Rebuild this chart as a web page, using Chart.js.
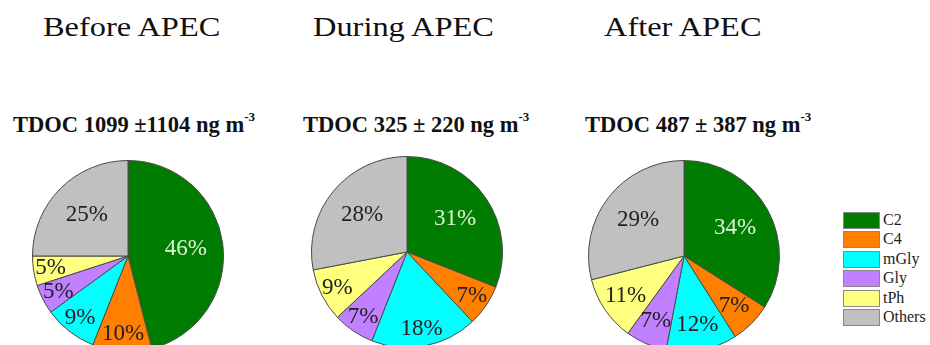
<!DOCTYPE html>
<html>
<head>
<meta charset="utf-8">
<script src="https://cdn.jsdelivr.net/npm/chart.js@4"></script>
<style>
html, body { margin:0; padding:0; width:930px; height:345px; overflow:hidden; background:#fff; }
.abs { position:absolute; white-space:nowrap; }
.title { font-family:"Liberation Serif", serif; font-size:27px; line-height:27px; color:#111; transform:scaleX(1.2); transform-origin:left top; }
.sub { font-family:"Liberation Serif", serif; font-weight:bold; font-size:22.5px; line-height:22.5px; color:#111; }
.sub sup { font-size:13px; vertical-align:baseline; position:relative; top:-11px; }
canvas { position:absolute; }
.leg { font-family:"Liberation Serif", serif; font-size:16px; color:#222; }
.box { position:absolute; width:35px; height:15px; border:1px solid #888; }
</style>
</head>
<body>
<script>
// ---- data ----
const categories = ["C2", "C4", "mGly", "Gly", "tPh", "Others"];
const periods = ["Before APEC", "During APEC", "After APEC"];
const tdocLabels = ["TDOC 1099 \u00B11104 ng m", "TDOC 325 \u00B1 220 ng m", "TDOC 487 \u00B1 387 ng m"];
const beforeValues = [46, 10, 9, 5, 5, 25];
const duringValues = [31, 7, 18, 7, 9, 28];
const afterValues  = [34, 7, 12, 7, 11, 29];
const sliceColors = ["#007d00", "#ff7f00", "#00ffff", "#c080ff", "#ffff80", "#c0c0c0"];

// ---- layout ----
const seriesList = [beforeValues, duringValues, afterValues];
const pieCenters = [[128, 256], [407, 252], [684, 256]];
const pieRadius = 95;
const titleLeft = [43, 313, 604];
const subLeft = [13, 303, 585];
const smallLabelRadius = [0.82, 0.82, 0.74];

function addDiv(cls, left, top, html) {
  const d = document.createElement('div');
  d.className = 'abs ' + cls;
  d.style.left = left + 'px';
  d.style.top = top + 'px';
  d.innerHTML = html;
  document.body.appendChild(d);
  return d;
}

function makeLabels(smallR) {
  return {
    id: 'pctLabels',
    afterDatasetsDraw(chart) {
      const ctx = chart.ctx;
      const ds = chart.data.datasets[0];
      const meta = chart.getDatasetMeta(0);
      ctx.save();
      ctx.font = '23px "Liberation Serif", serif';
      ctx.textAlign = 'center';
      ctx.textBaseline = 'middle';
      meta.data.forEach((arc, i) => {
        const p = arc.getProps(['x', 'y', 'startAngle', 'endAngle', 'outerRadius'], true);
        const mid = (p.startAngle + p.endAngle) / 2;
        const v = ds.data[i];
        const r = p.outerRadius * (v >= 20 ? 0.61 : smallR);
        ctx.fillStyle = i === 0 ? '#dff5d8' : '#222';
        ctx.fillText(v + '%', p.x + Math.cos(mid) * r, p.y + Math.sin(mid) * r);
      });
      ctx.restore();
    }
  };
}

periods.forEach((p, k) => {
  addDiv('title', titleLeft[k], 14, p);
  addDiv('sub', subLeft[k], 114, tdocLabels[k] + '<sup>-3</sup>');
  const c = document.createElement('canvas');
  const size = pieRadius * 2 + 2;
  c.width = size; c.height = size;
  c.style.left = (pieCenters[k][0] - size / 2) + 'px';
  c.style.top = (pieCenters[k][1] - size / 2) + 'px';
  document.body.appendChild(c);
  new Chart(c, {
    type: 'pie',
    data: {
      labels: categories,
      datasets: [{
        data: seriesList[k],
        backgroundColor: sliceColors,
        borderColor: '#4a4a4a',
        borderWidth: 1
      }]
    },
    options: {
      responsive: false,
      animation: false,
      layout: { padding: 0 },
      plugins: { legend: { display: false }, tooltip: { enabled: false } }
    },
    plugins: [makeLabels(smallLabelRadius[k])]
  });
});

// legend
categories.forEach((name, i) => {
  const top = 212 + i * 19.4;
  const b = document.createElement('div');
  b.className = 'box';
  b.style.left = '843px';
  b.style.top = top + 'px';
  b.style.background = sliceColors[i];
  document.body.appendChild(b);
  const t = addDiv('leg', 883, top - 1, name);
  t.style.lineHeight = '18px';
});
</script>
</body>
</html>
